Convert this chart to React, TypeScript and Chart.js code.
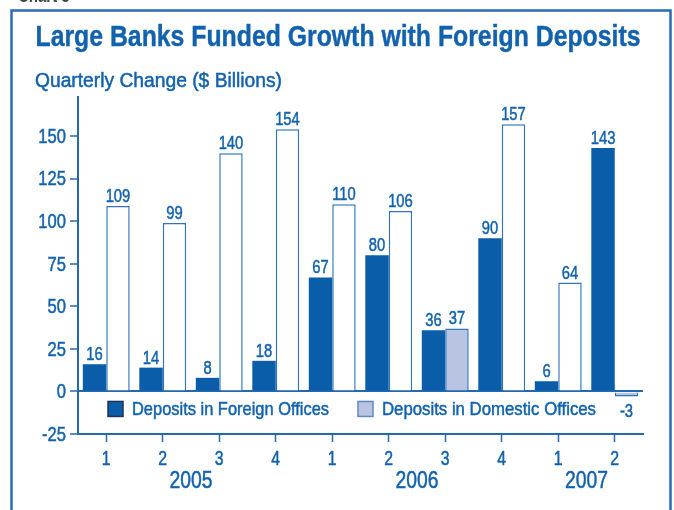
import React, { useEffect, useRef } from "react";
import { Chart, registerables } from "chart.js";

Chart.register(...registerables);

// Datos del gráfico
const quarters = ["1", "2", "3", "4", "1", "2", "3", "4", "1", "2"];
const years = ["2005", "2005", "2005", "2005", "2006", "2006", "2006", "2006", "2007", "2007"];
const foreignDeposits = [16, 14, 8, 18, 67, 80, 36, 90, 6, 143];
const domesticDeposits = [109, 99, 140, 154, 110, 106, 37, 157, 64, -3];
const yTicks = [-25, 0, 25, 50, 75, 100, 125, 150];
// barras domésticas con relleno claro (el resto va en blanco)
const shadedDomestic = [6, 9];

const TITLE = "Large Banks Funded Growth with Foreign Deposits";
const Y_TITLE = "Quarterly Change ($ Billions)";
const LEGEND = ["Deposits in Foreign Offices", "Deposits in Domestic Offices"];

const BLUE = "#0A5DA9";
const TEXT = "#1262AE";
const AXIS = "#2468B2";
const LAVENDER = "#B9C4E2";
const FONT = '"Liberation Sans", Arial, sans-serif';
const NARROW = 0.79; // compresión horizontal para imitar una fuente condensada

// Texto comprimido horizontalmente; si se da "fit", se ajusta a ese ancho
const drawText = (
  ctx: CanvasRenderingContext2D,
  text: string,
  x: number,
  y: number,
  font: string,
  align: CanvasTextAlign,
  baseline: CanvasTextBaseline,
  fit?: number,
  weight = 0.5
) => {
  ctx.save();
  ctx.font = font;
  const sx = fit ? fit / ctx.measureText(text).width : NARROW;
  ctx.translate(x, y);
  ctx.scale(sx, 1);
  ctx.textAlign = align;
  ctx.textBaseline = baseline;
  ctx.fillText(text, 0, 0);
  if (weight > 0) {
    // engrosar un poco el trazo
    ctx.strokeStyle = ctx.fillStyle as string;
    ctx.lineWidth = weight;
    ctx.strokeText(text, 0, 0);
  }
  ctx.restore();
};

const decorPlugin = {
  id: "decor",
  beforeDraw(chart: any) {
    const { ctx, width, height } = chart;
    ctx.save();
    ctx.fillStyle = "#fff";
    ctx.fillRect(0, 0, width, height);

    // marco
    ctx.strokeStyle = "#2A6CB4";
    ctx.lineWidth = 2.5;
    ctx.strokeRect(11.5, 10.5, 659, height + 20);

    // texto recortado arriba
    ctx.fillStyle = "#444";
    drawText(ctx, "Chart 5", 18, 2, `bold 19px ${FONT}`, "left", "alphabetic", undefined, 0);

    // título
    ctx.fillStyle = TEXT;
    drawText(ctx, TITLE, 338, 46, `bold 29px ${FONT}`, "center", "alphabetic", 605, 0.4);

    // título del eje
    drawText(ctx, Y_TITLE, 35, 87, `20px ${FONT}`, "left", "alphabetic", 247);
    ctx.restore();
  },
  afterDatasetsDraw(chart: any) {
    const { ctx, chartArea } = chart;
    const x = chart.scales.x;
    const y = chart.scales.y;
    ctx.save();
    ctx.fillStyle = TEXT;

    // etiquetas del eje Y
    y.ticks.forEach((t: any) => {
      drawText(ctx, String(t.value), chartArea.left - 12, y.getPixelForValue(t.value) + 1, `21px ${FONT}`, "right", "middle");
    });

    // trimestres
    quarters.forEach((q, i) => {
      drawText(ctx, q, x.getPixelForValue(i), chartArea.bottom + 31, `20px ${FONT}`, "center", "alphabetic");
    });

    // años debajo de los trimestres
    const uniqueYears = Array.from(new Set(years));
    uniqueYears.forEach((yr) => {
      const idx = years.map((v, i) => (v === yr ? i : -1)).filter((i) => i >= 0);
      const px = idx.reduce((s, i) => s + x.getPixelForValue(i), 0) / idx.length;
      drawText(ctx, yr, px, chartArea.bottom + 54, `24.5px ${FONT}`, "center", "alphabetic");
    });

    // etiquetas de valores
    chart.data.datasets.forEach((ds: any, di: number) => {
      const meta = chart.getDatasetMeta(di);
      meta.data.forEach((bar: any, i: number) => {
        const v = ds.data[i] as number;
        if (v >= 0) {
          drawText(ctx, String(v), bar.x, bar.y - 4, `18.7px ${FONT}`, "center", "alphabetic");
        } else {
          drawText(ctx, String(v), bar.x, bar.y + 20, `18.7px ${FONT}`, "center", "alphabetic");
        }
      });
    });

    // leyenda dentro del área
    const zero = y.getPixelForValue(0);
    const ly = zero + 10;
    const items = [
      { x: chartArea.left + 30, fill: BLUE, border: "#1C3558", label: LEGEND[0], w: 197 },
      { x: chartArea.left + 280, fill: LAVENDER, border: "#5F88C2", label: LEGEND[1], w: 214 },
    ];
    items.forEach((it) => {
      ctx.fillStyle = it.fill;
      ctx.fillRect(it.x, ly, 15, 15);
      ctx.strokeStyle = it.border;
      ctx.lineWidth = 1.5;
      ctx.strokeRect(it.x, ly, 15, 15);
      ctx.fillStyle = TEXT;
      drawText(ctx, it.label, it.x + 24, ly + 14, `19px ${FONT}`, "left", "alphabetic", it.w);
    });
    ctx.restore();
  },
};

const App: React.FC = () => {
  const chartRef = useRef<HTMLCanvasElement>(null);
  const chartInstanceRef = useRef<Chart | null>(null);

  useEffect(() => {
    if (!chartRef.current) return;
    if (chartInstanceRef.current) chartInstanceRef.current.destroy();

    const ctx = chartRef.current.getContext("2d");
    if (!ctx) return;

    const domesticFill = domesticDeposits.map((_, i) =>
      shadedDomestic.includes(i) ? LAVENDER : "#ffffff"
    );

    chartInstanceRef.current = new Chart(ctx, {
      type: "bar",
      data: {
        labels: quarters,
        datasets: [
          {
            label: LEGEND[0],
            data: foreignDeposits,
            backgroundColor: BLUE,
            borderWidth: 0,
            categoryPercentage: 0.83,
            barPercentage: 1,
          },
          {
            label: LEGEND[1],
            data: domesticDeposits,
            backgroundColor: domesticFill,
            borderColor: "#2F74BC",
            borderWidth: 1.5,
            categoryPercentage: 0.83,
            barPercentage: 1,
          },
        ],
      },
      options: {
        responsive: true,
        maintainAspectRatio: false,
        animation: false,
        layout: { padding: { top: 97, right: 31, left: 0, bottom: 0 } },
        plugins: {
          legend: { display: false },
          tooltip: { enabled: false },
        },
        scales: {
          x: {
            afterFit: (scale: any) => {
              scale.height = 76;
            },
            grid: {
              display: true,
              drawOnChartArea: false,
              offset: false,
              drawTicks: true,
              tickLength: 8,
              tickColor: AXIS,
              tickWidth: 1.5,
            },
            border: { display: true, color: AXIS, width: 2 },
            ticks: { display: false },
          },
          y: {
            min: -25,
            max: 173,
            afterFit: (scale: any) => {
              scale.width = 78;
            },
            afterBuildTicks: (scale: any) => {
              scale.ticks = yTicks.map((v) => ({ value: v }));
            },
            grid: {
              display: true,
              drawOnChartArea: true,
              color: (c: any) => (c.tick && c.tick.value === 0 ? AXIS : "transparent"),
              lineWidth: 2,
              drawTicks: true,
              tickLength: 8,
              tickColor: AXIS,
              tickWidth: 1.5,
            },
            border: { display: true, color: AXIS, width: 2 },
            ticks: { display: false },
          },
        },
      },
      plugins: [decorPlugin],
    });

    return () => {
      if (chartInstanceRef.current) {
        chartInstanceRef.current.destroy();
        chartInstanceRef.current = null;
      }
    };
  }, []);

  return (
    <div style={{ position: "absolute", left: 0, top: 0, width: 674, height: 510 }}>
      <canvas ref={chartRef} />
    </div>
  );
};

export default App;
